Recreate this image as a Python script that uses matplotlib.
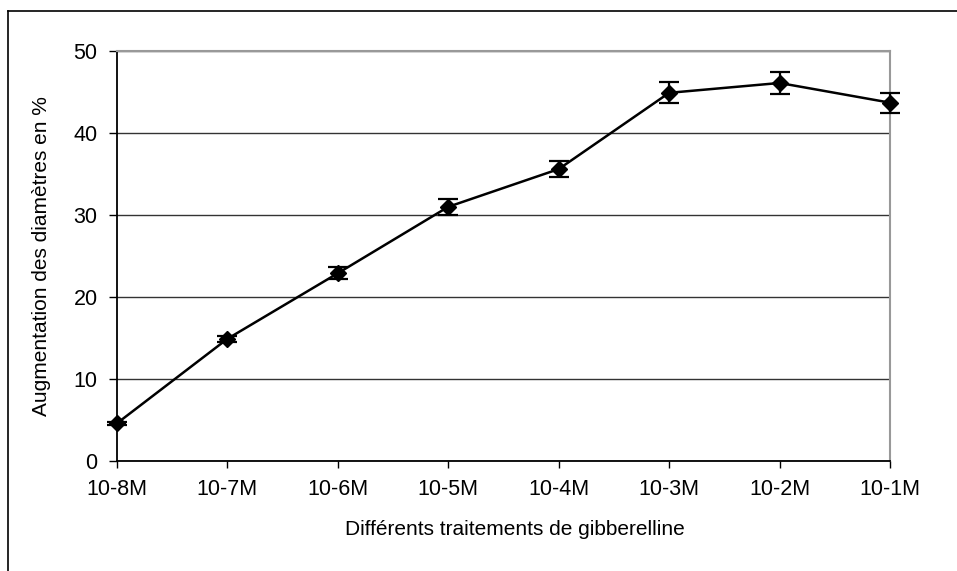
import matplotlib
matplotlib.use("Agg")
import matplotlib.pyplot as plt
from matplotlib.lines import Line2D

plt.rcParams['font.family'] = ['Liberation Sans', 'DejaVu Sans']

categories = ["10-8M", "10-7M", "10-6M", "10-5M", "10-4M", "10-3M", "10-2M", "10-1M"]
values = [4.6, 14.9, 22.9, 31.0, 35.6, 44.9, 46.1, 43.7]
errors = [0.2, 0.35, 0.73, 1.0, 1.0, 1.3, 1.3, 1.2]
yticks = [0, 10, 20, 30, 40, 50]

W, H = 957, 571
fig = plt.figure(figsize=(W / 100, H / 100), dpi=100)
left, right, top, bottom = 117, 890, 51, 461
ax = fig.add_axes([left / W, 1 - bottom / H, (right - left) / W, (bottom - top) / H])

x = list(range(len(categories)))
ax.errorbar(x, values, yerr=errors, color='black', lw=1.8, marker='D', markersize=8,
            capsize=7, capthick=1.6, elinewidth=1.6, clip_on=False, zorder=5)

ax.set_xlim(0, len(categories) - 1)
ax.set_ylim(0, 50)
ax.set_xticks(x)
ax.set_xticklabels(categories, fontsize=15.5)
ax.set_yticks(yticks)
ax.set_yticklabels([str(t) for t in yticks], fontsize=15.5)
ax.yaxis.grid(True, color='#333333', lw=1.0)
ax.set_axisbelow(True)
ax.tick_params(axis='y', direction='out', length=6, width=1, pad=8)
ax.tick_params(axis='x', direction='out', length=5, width=1, pad=8)

ax.spines['left'].set_color('black')
ax.spines['bottom'].set_color('black')
ax.spines['left'].set_linewidth(1.3)
ax.spines['bottom'].set_linewidth(1.3)
ax.spines['top'].set_color('#999999')
ax.spines['right'].set_color('#999999')
ax.spines['top'].set_linewidth(1.5)
ax.spines['right'].set_linewidth(1.5)

ax.set_xlabel("Différents traitements de gibberelline", fontsize=15)
ax.xaxis.set_label_coords(0.515, -0.145)
ax.set_ylabel("Augmentation des diamètres en %", fontsize=15, labelpad=16)

# outer frame (left and top edges visible)
fig.add_artist(Line2D([8 / W, 8 / W], [0, 1 - 11 / H], transform=fig.transFigure, color='black', lw=1.2))
fig.add_artist(Line2D([8 / W, 1], [1 - 11 / H, 1 - 11 / H], transform=fig.transFigure, color='black', lw=1.2))

fig.savefig("out.png", dpi=100)
